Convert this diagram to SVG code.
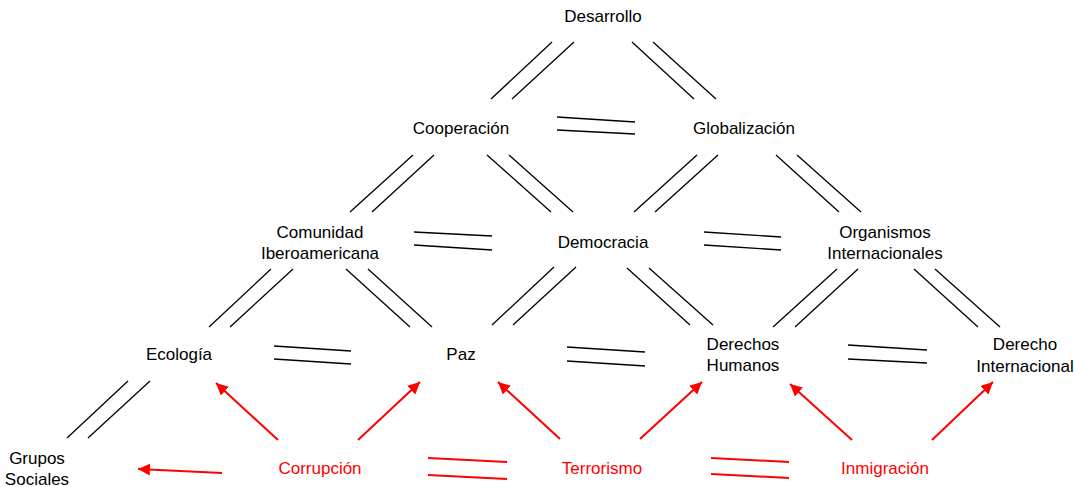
<svg xmlns="http://www.w3.org/2000/svg" width="1074" height="487" viewBox="0 0 1074 487">
  <style>
    .lbl { font-family: "Liberation Sans", Arial, sans-serif; font-size: 17px; fill: #000; text-anchor: middle; }
    .red { fill: #ff0000; }
    .link line { stroke: #000; stroke-width: 1.3; fill: none; }
    .cause line { stroke: #ff0000; stroke-width: 2; fill: none; }
    .cause line.arr { marker-end: url(#ah); }
  </style>
  <defs>
    <marker id="ah" markerUnits="userSpaceOnUse" markerWidth="14" markerHeight="12" refX="12" refY="6" orient="auto">
      <path d="M0,0 L12,6 L0,12 Z" fill="#ff0000"/>
    </marker>
  </defs>

  <rect width="1074" height="487" fill="#fff"/>

  <!-- double-line relations and cause arrows -->
  <g id="connectors">
    <g class="link">
      <!-- Desarrollo -->
      <line x1="552" y1="42" x2="491" y2="99"/>
      <line x1="574" y1="42" x2="512" y2="99"/>
      <line x1="632" y1="42" x2="694" y2="99"/>
      <line x1="653" y1="42" x2="716" y2="99"/>
      <!-- Cooperación = Globalización -->
      <line x1="557" y1="117" x2="635" y2="122"/>
      <line x1="557" y1="130" x2="635" y2="134"/>
      <!-- Cooperación -->
      <line x1="413" y1="155" x2="350" y2="212"/>
      <line x1="434" y1="155" x2="372" y2="212"/>
      <line x1="487" y1="155" x2="551" y2="212"/>
      <line x1="509" y1="155" x2="573" y2="212"/>
      <!-- Globalización -->
      <line x1="697" y1="155" x2="634" y2="212"/>
      <line x1="718" y1="155" x2="655" y2="212"/>
      <line x1="776" y1="155" x2="839" y2="212"/>
      <line x1="797" y1="155" x2="861" y2="212"/>
      <!-- Comunidad = Democracia = Organismos -->
      <line x1="414" y1="232" x2="492" y2="236"/>
      <line x1="414" y1="245" x2="492" y2="250"/>
      <line x1="704" y1="232" x2="781" y2="237"/>
      <line x1="704" y1="245" x2="781" y2="250"/>
      <!-- Comunidad Iberoamericana -->
      <line x1="271" y1="269" x2="209" y2="327"/>
      <line x1="293" y1="269" x2="230" y2="327"/>
      <line x1="346" y1="269" x2="410" y2="327"/>
      <line x1="368" y1="269" x2="432" y2="327"/>
      <!-- Democracia -->
      <line x1="554" y1="267" x2="492" y2="325"/>
      <line x1="576" y1="267" x2="513" y2="325"/>
      <line x1="627" y1="268" x2="690" y2="325"/>
      <line x1="649" y1="268" x2="713" y2="325"/>
      <!-- Organismos Internacionales -->
      <line x1="837" y1="269" x2="773" y2="327"/>
      <line x1="858" y1="269" x2="795" y2="327"/>
      <line x1="914" y1="269" x2="978" y2="327"/>
      <line x1="935" y1="269" x2="1000" y2="327"/>
      <!-- Ecología = Paz = Derechos Humanos = Derecho Internacional -->
      <line x1="274" y1="346" x2="351" y2="351"/>
      <line x1="274" y1="359" x2="351" y2="364"/>
      <line x1="567" y1="347" x2="645" y2="352"/>
      <line x1="567" y1="361" x2="645" y2="366"/>
      <line x1="848" y1="345" x2="927" y2="350"/>
      <line x1="848" y1="359" x2="927" y2="363"/>
      <!-- Ecología - Grupos Sociales -->
      <line x1="128" y1="381" x2="67" y2="438"/>
      <line x1="150" y1="381" x2="88" y2="438"/>
    </g>
    <g class="cause">
      <!-- Corrupción = Terrorismo = Inmigración -->
      <line x1="428" y1="458" x2="507" y2="462"/>
      <line x1="428" y1="475" x2="507" y2="479"/>
      <line x1="711" y1="458" x2="789" y2="462"/>
      <line x1="711" y1="474" x2="789" y2="478"/>
      <!-- Corrupción -->
      <line class="arr" x1="222" y1="473" x2="138" y2="469"/>
      <line class="arr" x1="278" y1="440" x2="216" y2="383"/>
      <line class="arr" x1="358" y1="440" x2="420" y2="382"/>
      <!-- Terrorismo -->
      <line class="arr" x1="560" y1="439" x2="498" y2="382"/>
      <line class="arr" x1="640" y1="439" x2="702" y2="382"/>
      <!-- Inmigración -->
      <line class="arr" x1="852" y1="440" x2="790" y2="384"/>
      <line class="arr" x1="932" y1="440" x2="993" y2="382"/>
    </g>
  </g>

  <g id="desarrollo"><text class="lbl" x="603" y="22">Desarrollo</text></g>
  <g id="cooperacion"><text class="lbl" x="461" y="134">Cooperación</text></g>
  <g id="globalizacion"><text class="lbl" x="744" y="134">Globalización</text></g>
  <g id="comunidad-iberoamericana">
    <text class="lbl" x="320" y="238">Comunidad</text>
    <text class="lbl" x="320" y="259">Iberoamericana</text>
  </g>
  <g id="democracia"><text class="lbl" x="603" y="248">Democracia</text></g>
  <g id="organismos-internacionales">
    <text class="lbl" x="885" y="238">Organismos</text>
    <text class="lbl" x="885" y="259">Internacionales</text>
  </g>
  <g id="ecologia"><text class="lbl" x="179" y="360">Ecología</text></g>
  <g id="paz"><text class="lbl" x="461" y="360">Paz</text></g>
  <g id="derechos-humanos">
    <text class="lbl" x="743" y="350">Derechos</text>
    <text class="lbl" x="743" y="371">Humanos</text>
  </g>
  <g id="derecho-internacional">
    <text class="lbl" x="1025" y="350">Derecho</text>
    <text class="lbl" x="1025" y="372">Internacional</text>
  </g>
  <g id="grupos-sociales">
    <text class="lbl" x="37" y="464">Grupos</text>
    <text class="lbl" x="37" y="485">Sociales</text>
  </g>
  <g id="corrupcion"><text class="lbl red" x="320" y="474">Corrupción</text></g>
  <g id="terrorismo"><text class="lbl red" x="602" y="474">Terrorismo</text></g>
  <g id="inmigracion"><text class="lbl red" x="885" y="474">Inmigración</text></g>
</svg>
